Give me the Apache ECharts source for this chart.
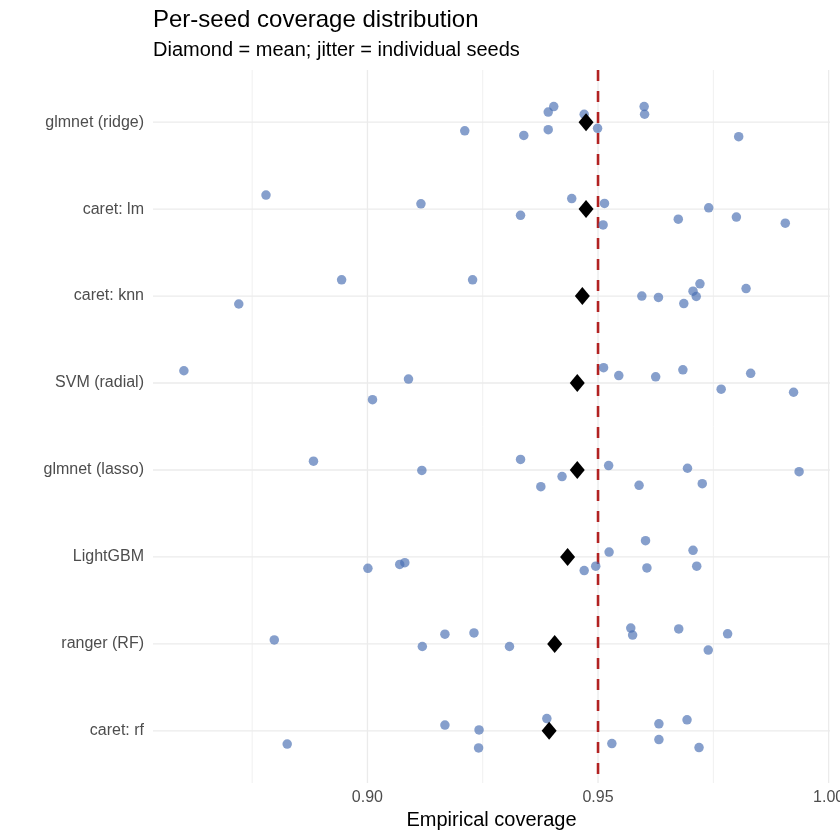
<!DOCTYPE html>
<html>
<head>
<meta charset="utf-8">
<script src="https://cdn.jsdelivr.net/npm/echarts@6/dist/echarts.min.js"></script>
<style>html,body{margin:0;padding:0;background:#fff}#chart{width:840px;height:840px}</style>
</head>
<body>
<div id="chart"></div>
<script>
// ---- data ----
const models = ['glmnet (ridge)', 'caret: lm', 'caret: knn', 'SVM (radial)', 'glmnet (lasso)', 'LightGBM', 'ranger (RF)', 'caret: rf'];

// per-seed coverage values (x) for each model
const seedCoverage = [
  [0.9211, 0.9339, 0.9392, 0.9392, 0.9404, 0.9470, 0.9499, 0.9600, 0.9601, 0.9805],
  [0.8780, 0.9116, 0.9332, 0.9443, 0.9514, 0.9511, 0.9674, 0.9740, 0.9800, 0.9906],
  [0.8721, 0.8944, 0.9228, 0.9595, 0.9631, 0.9686, 0.9706, 0.9713, 0.9721, 0.9821],
  [0.8602, 0.9011, 0.9089, 0.9512, 0.9545, 0.9625, 0.9684, 0.9767, 0.9831, 0.9924],
  [0.8883, 0.9118, 0.9332, 0.9376, 0.9422, 0.9523, 0.9589, 0.9694, 0.9726, 0.9936],
  [0.9001, 0.9070, 0.9081, 0.9470, 0.9495, 0.9524, 0.9603, 0.9606, 0.9706, 0.9714],
  [0.8798, 0.9119, 0.9168, 0.9231, 0.9308, 0.9571, 0.9575, 0.9675, 0.9739, 0.9781],
  [0.8826, 0.9168, 0.9242, 0.9241, 0.9389, 0.9530, 0.9632, 0.9632, 0.9693, 0.9719]
];
// vertical jitter offsets (in category units, positive = downward)
const seedJitter = [
  [0.10, 0.152, 0.086, -0.116, -0.18, -0.091, 0.071, -0.18, -0.091, 0.167],
  [-0.162, -0.061, 0.071, -0.121, -0.066, 0.182, 0.116, -0.015, 0.091, 0.162],
  [0.091, -0.187, -0.187, 0.0, 0.015, 0.086, -0.056, 0.005, -0.141, -0.086],
  [-0.141, 0.192, -0.045, -0.177, -0.086, -0.071, -0.152, 0.071, -0.111, 0.106],
  [-0.101, 0.005, -0.121, 0.192, 0.076, -0.051, 0.177, -0.020, 0.157, 0.020],
  [0.131, 0.086, 0.066, 0.157, 0.106, -0.056, -0.187, 0.126, -0.076, 0.106],
  [-0.045, 0.030, -0.111, -0.126, 0.030, -0.182, -0.101, -0.172, 0.071, -0.116],
  [0.152, -0.066, -0.010, 0.197, -0.141, 0.146, -0.081, 0.101, -0.126, 0.192]
];
// mean coverage (diamonds)
const meanCoverage = [0.9474, 0.9474, 0.9466, 0.9455, 0.9455, 0.9434, 0.9406, 0.9394];
const nominal = 0.95;

const xMajorTicks = [0.90, 0.95, 1.00];
const xMinorTicks = [0.875, 0.925, 0.975];
const xMin = 0.8535, xMax = 1.0003;
const yMin = -0.6, yMax = 7.6;

// ---- build ----
const pts = [];
seedCoverage.forEach((arr, i) => arr.forEach((v, j) => pts.push([v, i + seedJitter[i][j]])));
const means = meanCoverage.map((m, i) => [m, i]);
const catIdx = models.map((_, i) => i);
const FONT = 'Liberation Sans, Arial, sans-serif';
const gridColor = '#EBEBEB';

function vLine(x, color, width, type, z) {
  return {type: 'line', data: [[x, yMin], [x, yMax]], symbol: 'none', silent: true, z: z,
          lineStyle: {color: color, width: width, type: type}, animation: false};
}
function hLine(y, color, width, z) {
  return {type: 'line', data: [[xMin, y], [xMax, y]], symbol: 'none', silent: true, z: z,
          lineStyle: {color: color, width: width}, animation: false};
}

const series = [];
xMinorTicks.forEach(v => series.push(vLine(v, '#F0F0F0', 1, 'solid', 1)));
xMajorTicks.forEach(v => series.push(vLine(v, gridColor, 1.3, 'solid', 1)));
catIdx.forEach(v => series.push(hLine(v, gridColor, 1.3, 1)));
series.push(vLine(nominal, '#B22222', 2.6, [11, 10], 2));
series.push({
  name: 'seeds', type: 'scatter', data: pts, z: 3,
  symbol: 'circle', symbolSize: 9.5,
  itemStyle: {color: 'rgba(72,110,178,0.66)', opacity: 1}
});
series.push({
  name: 'mean', type: 'scatter', data: means, z: 4,
  symbol: 'diamond', symbolSize: [15, 18],
  itemStyle: {color: '#000', opacity: 1}
});

const chart = echarts.init(document.getElementById('chart'), null, {renderer: 'canvas'});
chart.setOption({
  animation: false,
  backgroundColor: '#ffffff',
  title: [
    {text: 'Per-seed coverage distribution', left: 153, top: 8, padding: 0,
     textStyle: {fontFamily: FONT, fontSize: 24, fontWeight: 'normal', color: '#000'}},
    {text: 'Diamond = mean; jitter = individual seeds', left: 153, top: 40, padding: 0,
     textStyle: {fontFamily: FONT, fontSize: 20, fontWeight: 'normal', color: '#000'}}
  ],
  grid: {left: 153, right: 10, top: 70, bottom: 57, containLabel: false, outerBoundsMode: 'none'},
  xAxis: {
    type: 'value', min: xMin, max: xMax,
    name: 'Empirical coverage', nameLocation: 'middle', nameGap: 27,
    nameTextStyle: {fontFamily: FONT, fontSize: 20, color: '#000'},
    axisLine: {show: false}, axisTick: {show: false}, splitLine: {show: false},
    axisLabel: {customValues: xMajorTicks, formatter: v => v.toFixed(2), fontFamily: FONT, fontSize: 16, color: '#4D4D4D', margin: 7}
  },
  yAxis: {
    type: 'value', min: yMin, max: yMax, inverse: true,
    axisLine: {show: false}, axisTick: {show: false}, splitLine: {show: false},
    axisLabel: {customValues: catIdx, formatter: v => models[Math.round(v)] || '', fontFamily: FONT, fontSize: 16, color: '#4D4D4D', margin: 9}
  },
  series: series
});
</script>
</body>
</html>
